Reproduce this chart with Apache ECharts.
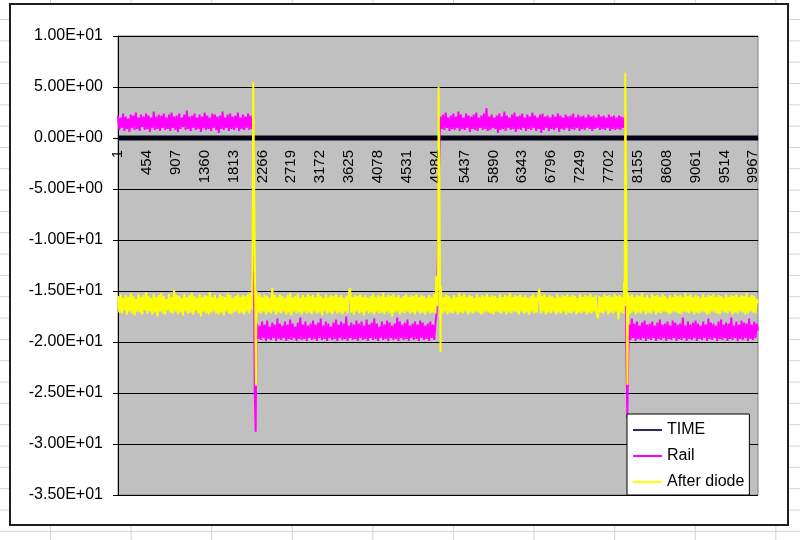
<!DOCTYPE html>
<html>
<head>
<meta charset="utf-8">
<script src="https://cdn.jsdelivr.net/npm/echarts@6/dist/echarts.min.js"></script>
<style>
html,body{margin:0;padding:0;}
body{width:800px;height:540px;position:relative;overflow:hidden;background-color:#fff;
background-image:linear-gradient(to right,#d2d2d2 1px,transparent 1px),linear-gradient(to bottom,#d2d2d2 1px,transparent 1px);
background-size:80.6px 21.33px;background-position:50px 19px;}
#box{position:absolute;left:9px;top:3px;width:780px;height:523px;box-sizing:border-box;border:2px solid #1e1e1e;background:#fff;}
#chart{position:absolute;left:0;top:0;width:800px;height:540px;}
</style>
</head>
<body>
<div id="box"></div>
<div id="chart"></div>
<script>
// ---- data (sample number, value) ----
const sampleCount = 10040;
const xLabelEvery = 453;
const yMin = -35, yMax = 10, yStep = 5;
const seriesNames = ['TIME', 'Rail', 'After diode'];

const timePoints = [[1, 0], [10040, 0]];

const railStepLen = 20;
const railAStart = 1;
const railA = [2.2,0.8,2.0,1.0,2.4,0.7,2.1,0.9,1.9,0.6,2.3,1.0,2.2,0.8,2.5,0.9,2.0,0.7,2.3,1.1,
2.1,0.8,2.4,0.9,2.2,0.6,2.0,1.0,2.6,0.8,2.1,0.9,2.3,0.7,2.2,1.0,2.4,0.8,2.0,0.9,
2.3,0.7,2.5,1.0,2.1,0.8,2.2,0.6,2.4,0.9,2.0,1.1,2.3,0.8,2.7,0.9,2.1,0.7,2.2,1.0,
2.4,0.8,2.0,0.9,2.3,0.6,2.1,1.0,2.5,0.8,2.2,0.9,2.0,0.7,2.4,1.0,2.3,0.8,2.1,0.5,
2.2,0.9,2.6,0.8,2.0,1.0,2.3,0.7,2.4,0.9,2.1,0.8,2.2,1.0,2.5,0.7,2.0,0.9,2.3,0.8,
2.1,1.0,2.4,0.8,2.2,0.9];
const railJump1 = [[2121,1.4],[2145,-24.5],[2160,-28.8],[2170,-20.6]];
const railBStart = 2181;
const railB = [-18.2,-19.7,-18.4,-19.8,-18.0,-19.6,-18.3,-19.9,-17.9,-19.7,-18.5,-19.8,-18.1,-19.6,-18.3,-19.9,-17.7,-19.7,-18.2,-19.8,
-18.4,-19.6,-18.0,-19.9,-18.3,-19.7,-17.8,-19.8,-18.2,-19.6,-18.5,-19.9,-18.1,-19.7,-17.6,-19.8,-18.3,-19.7,-18.0,-19.9,
-18.4,-19.6,-18.2,-19.8,-17.9,-19.7,-18.3,-19.9,-18.1,-19.6,-17.7,-19.8,-18.4,-19.7,-18.0,-19.9,-18.2,-19.6,-18.5,-19.8,
-18.1,-19.7,-17.8,-19.9,-18.3,-19.6,-18.0,-19.8,-18.2,-19.7,-17.5,-19.9,-18.4,-19.6,-18.1,-19.8,-18.3,-19.7,-17.9,-19.9,
-18.2,-19.6,-18.0,-19.8,-18.4,-19.7,-17.8,-19.9,-18.3,-19.6,-18.1,-19.8,-17.7,-19.7,-18.2,-19.9,-18.5,-19.6,-18.0,-19.8,
-18.3,-19.7,-17.9,-19.9,-18.1,-19.6,-18.4,-19.8,-18.2,-19.7,-17.6,-19.9,-18.0,-19.6,-18.3,-19.8,-18.1,-19.7,-17.8,-19.9,
-18.4,-19.6,-18.2,-19.8,-18.0,-19.7,-18.3,-19.9,-17.9,-19.6,-18.1,-19.8,-18.4,-19.7,-18.2,-19.9,-18.0,-19.6,-18.3,-19.8,
-18.1];
const railJump2 = [[5001,-17.0],[5021,-11.3],[5035,-4.0],[5050,1.2]];
const railCStart = 5061;
const railC = [2.1,0.9,2.3,0.8,2.5,1.0,2.0,0.7,2.2,0.9,2.4,0.8,2.1,1.0,2.6,0.7,2.3,0.9,2.0,0.8,
2.4,1.0,2.2,0.6,2.1,0.9,2.3,0.8,2.5,0.7,2.0,1.0,2.2,0.8,2.4,0.9,2.9,0.7,2.1,0.8,
2.3,1.0,2.0,0.9,2.2,0.5,2.4,0.8,2.1,0.9,2.6,0.7,2.2,1.0,2.0,0.8,2.3,0.9,2.5,0.6,
2.1,0.9,2.2,0.8,2.4,1.0,2.0,0.7,2.3,0.9,2.1,0.8,2.5,1.0,2.2,0.7,2.0,0.9,2.3,0.5,
2.4,0.8,2.1,1.0,2.2,0.7,2.0,0.9,2.3,0.8,2.1,1.0,2.4,0.6,2.2,0.9,2.0,0.8,2.3,1.0,
2.1,0.7,2.2,0.9,2.4,0.8,2.0,1.0,2.3,0.7,2.1,0.9,2.2,0.8,2.0,1.0,2.3,0.9,2.1,0.7,
2.2,0.9,2.0,1.0,2.3,0.8,2.1,0.9,2.2,0.8,2.0,1.0,2.3,0.7,2.1,0.9,2.2,0.8,2.0,0.9,
2.2,0.8,2.1,1.0,2.0];
const railJump3 = [[7955,1.2],[7975,-20.5],[7990,-27.5],[8005,-21.0]];
const railDStart = 8021;
const railD = [-18.3,-19.8,-17.7,-19.6,-18.2,-19.9,-18.0,-19.7,-18.4,-19.8,-18.1,-19.6,-17.9,-19.9,-18.3,-19.7,-18.2,-19.8,-18.0,-19.6,
-18.4,-19.9,-18.1,-19.7,-17.8,-19.8,-18.3,-19.6,-18.2,-19.9,-18.0,-19.7,-18.4,-19.8,-17.9,-19.6,-18.1,-19.9,-18.3,-19.7,
-18.2,-19.8,-17.6,-19.6,-18.4,-19.9,-18.0,-19.7,-18.3,-19.8,-18.1,-19.6,-17.9,-19.9,-18.2,-19.7,-18.4,-19.8,-18.0,-19.6,
-18.3,-19.9,-17.7,-19.7,-18.1,-19.8,-18.2,-19.6,-18.4,-19.9,-18.0,-19.7,-17.8,-19.8,-18.3,-19.6,-18.1,-19.9,-18.2,-19.7,
-17.6,-19.8,-18.4,-19.6,-18.0,-19.9,-18.3,-19.7,-17.9,-19.8,-18.1,-19.6,-18.2,-19.9,-17.7,-19.7,-18.3,-19.8,-18.0,-19.6,
-18.2];
const railEnd = [[10040,-18.9]];

const diodeA = [-15.5,-17.1,-15.3,-17.2,-15.7,-16.9,-15.4,-17.3,-15.6,-17.0,-15.2,-17.2,-15.5,-17.4,-15.8,-17.0,-15.3,-17.1,-15.6,-17.3,
-15.4,-16.9,-15.1,-17.2,-15.5,-17.0,-15.7,-17.3,-15.3,-17.1,-15.6,-17.5,-15.4,-17.0,-15.2,-17.2,-15.5,-17.3,-15.8,-16.9,
-15.3,-17.1,-15.6,-17.2,-14.9,-17.0,-15.4,-17.3,-15.5,-17.1,-15.7,-17.4,-15.3,-17.0,-15.6,-17.2,-15.4,-17.1,-15.2,-17.3,
-15.5,-16.9,-15.7,-17.2,-15.3,-17.5,-15.6,-17.0,-15.4,-17.2,-15.5,-17.3,-15.1,-17.1,-15.6,-17.0,-15.4,-17.2,-15.7,-17.3,
-15.3,-17.1,-15.5,-17.4,-15.6,-17.0,-15.2,-17.2,-15.4,-17.3,-15.7,-17.1,-15.5,-17.0,-15.3,-17.2,-15.6,-17.1,-15.4,-17.3,
-15.5,-17.0,-15.3,-17.2,-15.2,-16.8];
const diodeJump1 = [[2112,-12.9],[2122,5.5],[2165,-24.3],[2172,-15.0],[2178,-17.5]];
const diodeB = [-15.5,-17.1,-15.3,-17.2,-15.6,-17.0,-15.4,-17.3,-15.5,-17.1,-15.7,-17.2,-14.7,-17.0,-15.4,-17.3,-15.6,-17.1,-15.3,-17.2,
-15.5,-17.0,-15.7,-17.3,-15.4,-17.1,-15.2,-17.4,-15.6,-17.0,-15.5,-17.2,-15.3,-17.1,-15.7,-17.3,-15.4,-17.0,-15.6,-17.2,
-15.3,-17.1,-15.5,-17.3,-15.4,-17.0,-15.6,-17.2,-15.2,-17.1,-15.5,-17.4,-15.7,-17.0,-15.3,-17.2,-15.6,-17.1,-15.4,-17.3,
-15.5,-17.0,-15.3,-17.2,-15.6,-17.1,-15.4,-17.3,-15.7,-17.0,-15.5,-17.2,-15.3,-14.7,-17.1,-15.6,-17.3,-15.4,-17.0,-15.5,
-17.2,-15.3,-17.1,-15.6,-17.4,-15.4,-17.0,-15.7,-17.2,-15.5,-17.1,-15.3,-17.3,-15.6,-17.0,-15.4,-17.2,-15.5,-17.1,-15.2,
-17.3,-15.6,-17.0,-15.4,-17.2,-15.5,-17.5,-15.3,-17.1,-15.6,-17.0,-15.4,-17.3,-15.7,-17.1,-15.5,-17.2,-15.3,-17.0,-15.6,
-17.2,-15.4,-17.1,-15.5,-17.3,-15.3,-17.0,-15.6,-17.2,-15.4,-17.1,-15.5,-17.3,-15.7,-17.0,-15.4,-17.2,-15.6,-17.1,-15.3,
-17.2];
const diodeJump2 = [[4995,-13.5],[5010,-16.5],[5022,-13.0],[5030,5.0],[5060,-21.0],[5066,-14.5],[5070,-17.0]];
const diodeC = [-15.4,-17.2,-15.6,-17.0,-15.3,-17.3,-15.5,-17.1,-15.7,-17.2,-15.4,-17.0,-15.6,-17.3,-15.2,-17.1,-15.5,-17.2,-15.3,-17.0,
-15.6,-17.3,-15.4,-17.1,-15.5,-17.2,-15.7,-17.0,-15.3,-17.1,-15.6,-17.3,-15.4,-17.2,-15.5,-17.0,-15.3,-17.1,-15.6,-17.2,
-15.4,-17.3,-15.5,-17.0,-15.7,-17.1,-15.3,-17.2,-15.6,-17.0,-15.4,-17.3,-15.5,-17.1,-15.2,-17.2,-15.6,-17.0,-15.4,-17.1,
-15.5,-17.3,-15.3,-17.0,-15.6,-17.2,-15.4,-17.1,-15.7,-17.3,-15.5,-17.0,-15.3,-17.2,-15.6,-17.1,-15.4,-14.8,-17.2,-15.5,
-17.0,-15.3,-17.3,-15.6,-17.1,-15.4,-17.2,-15.5,-17.0,-15.7,-17.3,-15.3,-17.1,-15.6,-17.2,-15.4,-17.0,-15.5,-17.3,-15.3,
-17.1,-15.6,-17.2,-15.4,-17.0,-15.5,-17.3,-15.7,-17.1,-15.3,-17.2,-15.6,-17.0,-15.4,-17.3,-15.5,-17.1,-15.3,-17.2,-15.6,
-17.0,-15.4,-17.3,-17.7,-15.5,-17.1,-15.6,-17.2,-15.3,-17.0,-15.5,-17.3,-15.4,-17.1,-15.6,-17.2,-15.3,-17.0,-15.5,-17.8,
-15.4,-17.1,-15.6,-17.2];
const diodeJump3 = [[7940,-14.1],[7950,-16.5],[7958,6.4],[7992,-24.2],[8000,-15.2],[8008,-17.4]];
const diodeD = [-15.5,-17.2,-15.3,-17.0,-15.6,-17.3,-15.4,-17.1,-15.5,-17.2,-15.2,-17.0,-15.6,-17.3,-15.4,-17.1,-15.7,-17.2,-15.3,-17.0,
-15.5,-17.3,-15.4,-17.1,-15.6,-17.2,-15.3,-17.0,-15.5,-17.1,-15.7,-17.3,-15.4,-17.2,-15.6,-17.0,-15.3,-17.1,-15.5,-17.2,
-15.4,-17.3,-15.6,-17.0,-15.2,-17.1,-15.5,-17.2,-15.3,-17.0,-15.6,-17.3,-15.4,-17.1,-15.5,-17.2,-15.7,-17.0,-15.3,-17.1,
-15.6,-17.3,-15.4,-17.2,-15.5,-17.0,-15.3,-17.1,-15.6,-17.2,-15.4,-17.3,-15.5,-17.0,-15.7,-17.1,-15.3,-17.2,-15.6,-17.0,
-15.4,-17.3,-15.5,-17.1,-15.3,-17.2,-15.6,-17.0,-15.4,-17.1,-15.5,-17.3,-15.2,-17.2,-15.6,-17.0,-15.4,-17.1,-15.5,-17.2,
-15.8];
const diodeEnd = [[10040,-16.2]];
const diodeStarts = [1, 2181, 5071, 8021];

// ---- build ----
const categories = [];
for (let i = 1; i <= sampleCount; i++) categories.push(String(i));
function seg(start, vals) { return vals.map((v, i) => [start + i * railStepLen - 1, v]); }
function pts(arr) { return arr.map(p => [p[0] - 1, p[1]]); }

const railData = [].concat(seg(railAStart, railA), pts(railJump1), seg(railBStart, railB), pts(railJump2),
  seg(railCStart, railC), pts(railJump3), seg(railDStart, railD), pts(railEnd));
const diodeData = [].concat(seg(diodeStarts[0], diodeA), pts(diodeJump1), seg(diodeStarts[1], diodeB), pts(diodeJump2),
  seg(diodeStarts[2], diodeC), pts(diodeJump3), seg(diodeStarts[3], diodeD), pts(diodeEnd));
const timeData = pts(timePoints);

function excelExp(v) {
  if (v === 0) return '0.00E+00';
  const e = Math.floor(Math.log10(Math.abs(v)) + 1e-9);
  const m = v / Math.pow(10, e);
  return m.toFixed(2) + 'E' + (e < 0 ? '-' : '+') + String(Math.abs(e)).padStart(2, '0');
}

const gridTop = 36, gridBottom = 45, chartH = 540;
const plotH = chartH - gridTop - gridBottom;
const zeroFromBottom = plotH * (0 - yMin) / (yMax - yMin);

const font = "'Liberation Sans', Arial, sans-serif";
const chart = echarts.init(document.getElementById('chart'), null, { renderer: 'canvas' });
chart.setOption({
  backgroundColor: 'transparent',
  animation: false,
  grid: { left: 118, top: gridTop, right: 42, bottom: gridBottom, show: true, backgroundColor: '#c0c0c0', borderColor: '#808080', borderWidth: 1 },
  legend: {
    data: seriesNames,
    orient: 'vertical',
    left: 627, top: 414,
    backgroundColor: '#ffffff', borderColor: '#000000', borderWidth: 1,
    padding: [8, 5, 5, 6],
    itemGap: 10, itemWidth: 29, itemHeight: 2,
    icon: 'rect',
    textStyle: { fontFamily: font, fontSize: 16, color: '#000', lineHeight: 16 }
  },
  xAxis: {
    type: 'category',
    data: categories,
    boundaryGap: false,
    position: 'bottom',
    offset: -zeroFromBottom,
    axisLine: { onZero: false, lineStyle: { color: '#000', width: 1 } },
    axisTick: { show: false },
    splitLine: { show: false },
    axisLabel: { interval: xLabelEvery - 1, rotate: 90, margin: 12, fontFamily: font, fontSize: 15, color: '#000' }
  },
  yAxis: {
    type: 'value',
    min: yMin, max: yMax, interval: yStep,
    axisLine: { show: true, lineStyle: { color: '#000', width: 1 } },
    axisTick: { show: true, length: 5, lineStyle: { color: '#000' } },
    splitLine: { show: true, lineStyle: { color: '#000', width: 1 } },
    axisLabel: { margin: 15, fontFamily: font, fontSize: 16, color: '#000', formatter: excelExp }
  },
  series: [
    { name: seriesNames[0], type: 'line', data: timeData, showSymbol: false, symbol: 'none', silent: true,
      itemStyle: { color: '#2a2a60' }, lineStyle: { color: '#05051a', width: 5 } },
    { name: seriesNames[1], type: 'line', data: railData, showSymbol: false, symbol: 'none', silent: true,
      itemStyle: { color: '#ff00ff' }, lineStyle: { color: '#ff00ff', width: 2 } },
    { name: seriesNames[2], type: 'line', data: diodeData, showSymbol: false, symbol: 'none', silent: true,
      itemStyle: { color: '#ffff00' }, lineStyle: { color: '#ffff00', width: 2 } }
  ]
});
</script>
</body>
</html>
